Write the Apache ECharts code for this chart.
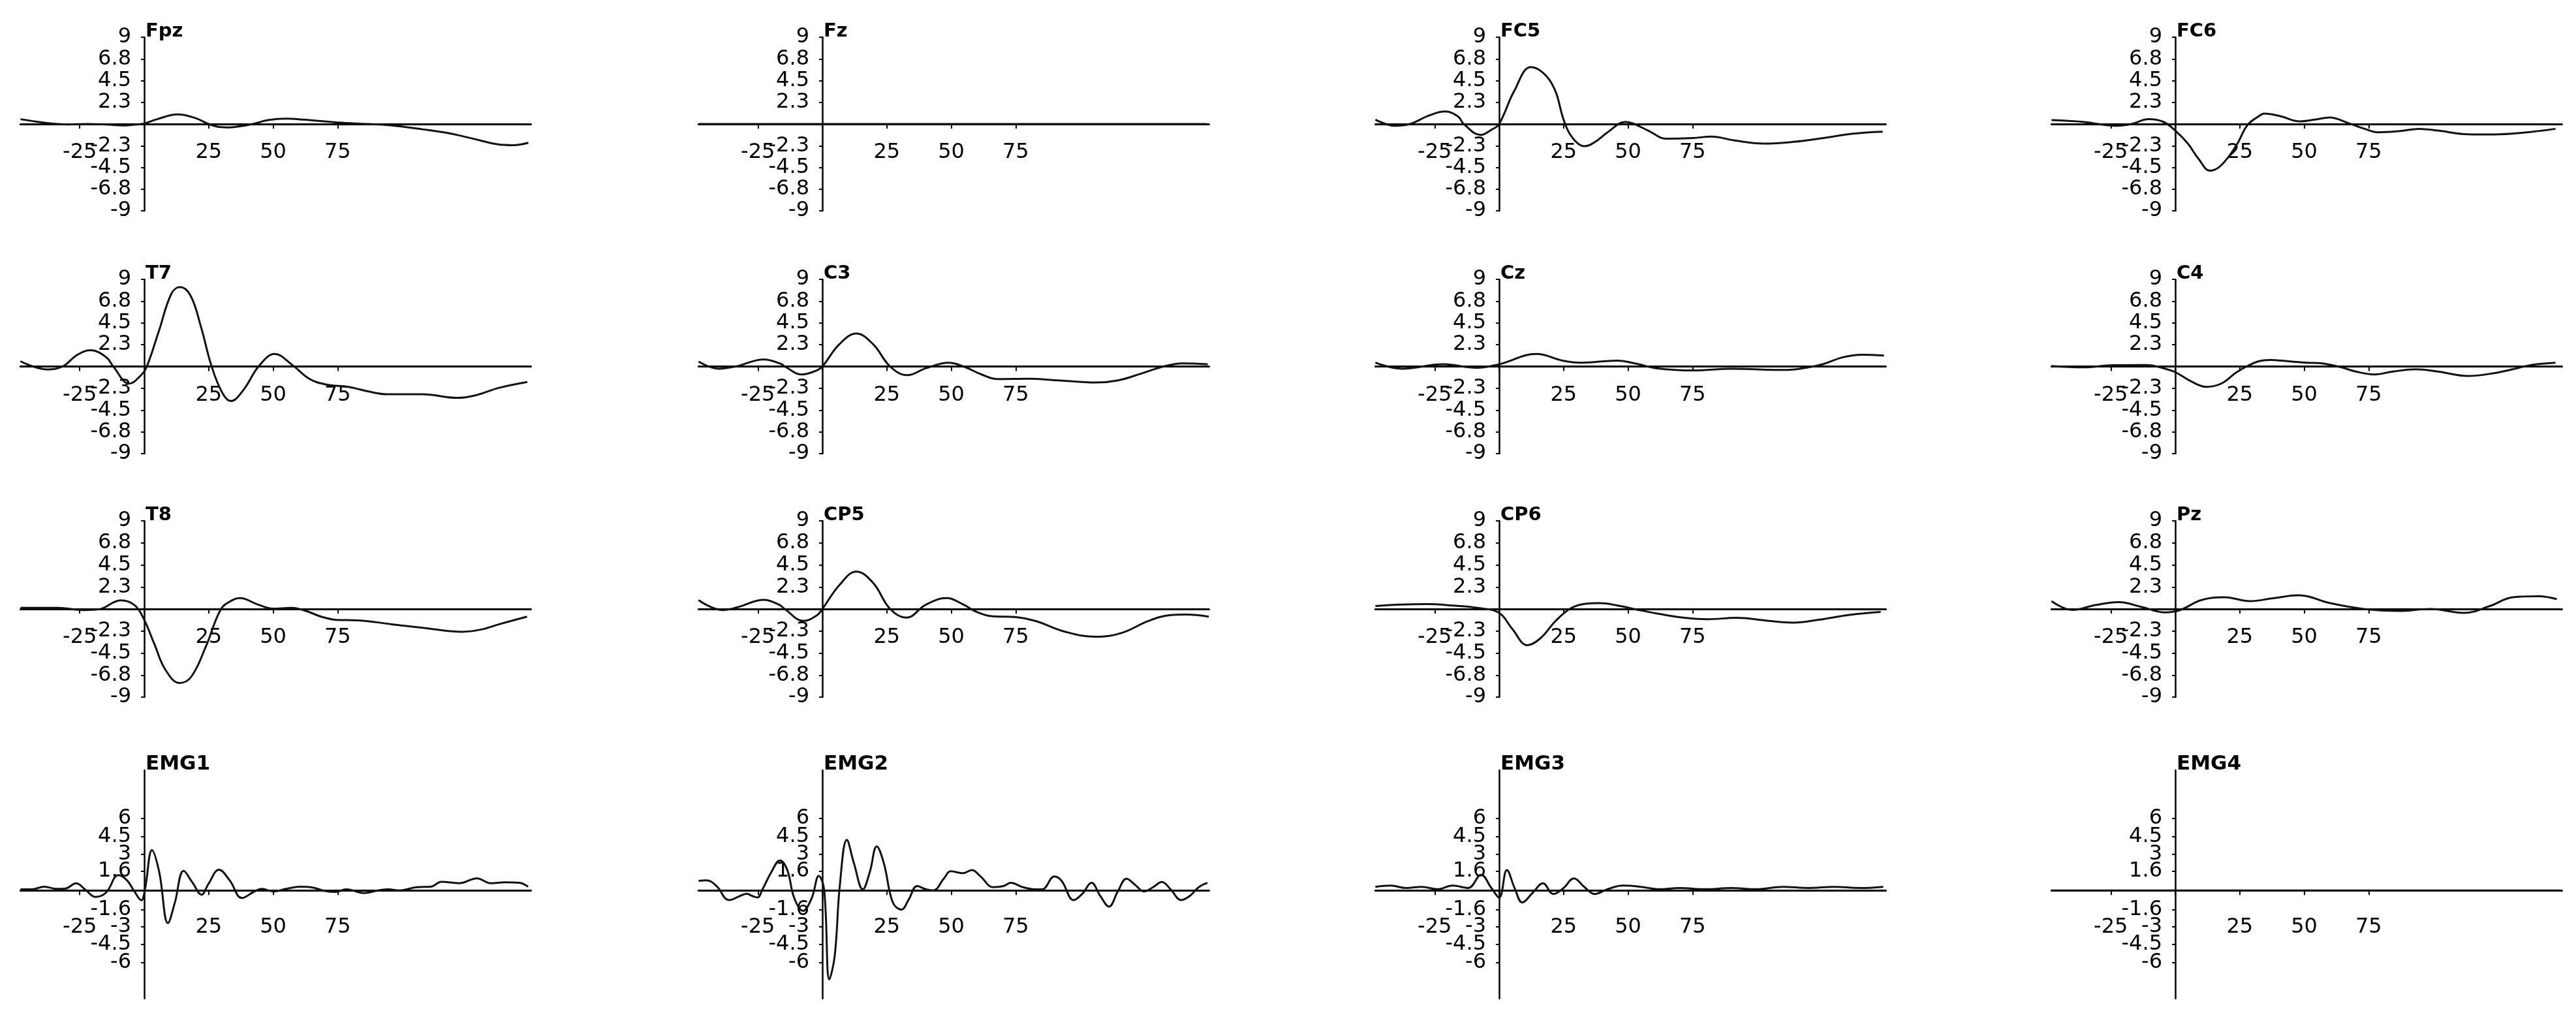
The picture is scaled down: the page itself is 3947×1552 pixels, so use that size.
<!DOCTYPE html>
<html><head><meta charset="utf-8">
<script src="https://cdn.jsdelivr.net/npm/echarts@6/dist/echarts.min.js"></script>
<style>html,body{margin:0;padding:0;background:#fff}#c{width:3947px;height:1552px}</style>
</head><body><div id="c"></div><script>
// ---- data (x: latency units, y: amplitude) ----
const channels = ['Fpz','Fz','FC5','FC6','T7','C3','Cz','C4','T8','CP5','CP6','Pz','EMG1','EMG2','EMG3','EMG4'];
const xTickValues = [-25, 0, 25, 50, 75];
const xLabelValues = [-25, 25, 50, 75];
const eegYTicks = [9, 6.75, 4.5, 2.25, -2.25, -4.5, -6.75, -9];
const eegYLabels = ['9', '6.8', '4.5', '2.3', '-2.3', '-4.5', '-6.8', '-9'];
const emgYTicks = [6, 4.5, 3, 1.6, -1.6, -3, -4.5, -6];
const emgYLabels = ['6', '4.5', '3', '1.6', '-1.6', '-3', '-4.5', '-6'];

const Fpz = [[-48,0.5],[-42,0.25],[-36,0.05],[-30,-0.05],[-22,0],[-15,-0.05],[-8,-0.15],[-3,-0.05],[0,0.05],[5,0.5],[13,1.0],[20,0.6],[25,0],[29,-0.3],[33,-0.35],[38,-0.2],[42,0],[48,0.4],[55,0.56],[62,0.45],[68,0.32],[75,0.15],[87,0],[95,-0.12],[108,-0.55],[118,-0.95],[128,-1.55],[137,-2.1],[143,-2.2],[149,-1.95]];
const Fz = [[-48,0],[0,0],[50,0],[100,0],[149,0]];
const FC5 = [[-48,0.45],[-40.5,-0.18],[-34.7,0],[-27,0.9],[-21,1.3],[-16,0.8],[-13.7,0],[-7.2,-1.13],[-3,-0.6],[0,0],[5.8,3.4],[12.3,5.9],[20.2,4.3],[25.6,0],[29,-1.6],[33.2,-2.3],[37,-1.9],[41.9,-0.9],[49,0.22],[52,0.05],[57.8,-0.68],[65,-1.53],[75,-1.46],[82.4,-1.3],[91,-1.69],[102.6,-2.03],[114.2,-1.85],[125.7,-1.46],[137.3,-1.0],[148.8,-0.79]];
const FC6 = [[-48,0.4],[-35.8,0.22],[-22.8,-0.18],[-17,0],[-10.4,0.5],[-4.6,0.22],[0,-0.68],[4.8,-2.0],[9,-3.6],[13.5,-4.84],[17.8,-4.28],[23.6,-2.25],[28,-0.11],[32.3,0.79],[34.5,1.08],[41,0.79],[48.3,0.27],[54,0.45],[59.9,0.68],[67,0.11],[72.9,-0.45],[78.7,-0.86],[87.4,-0.72],[94.6,-0.5],[101.9,-0.68],[113.5,-1.06],[123.6,-1.08],[135,-0.9],[147.5,-0.5]];
const T7 = [[-48,0.54],[-37.8,-0.3],[-31.7,0],[-26,1.2],[-20.8,1.68],[-14.7,0.95],[-12,0],[-5.85,-1.77],[-1.1,-0.86],[1,0],[5.7,3.67],[10.5,7.5],[13.9,8.2],[18,7.3],[22,4.1],[26.1,0.05],[30.2,-2.68],[33.6,-3.58],[38.4,-2.45],[44.5,0.05],[50.6,1.29],[57.4,0.16],[64.2,-1.3],[71,-1.88],[79.2,-2.1],[87.3,-2.6],[94.1,-2.86],[107.8,-2.86],[121.4,-3.24],[128.2,-3.0],[137.7,-2.2],[148.6,-1.6]];
const C3 = [[-48,0.5],[-40.2,-0.23],[-33.6,0],[-22.7,0.73],[-16,0.27],[-14.6,0],[-8,-0.82],[-2.2,-0.41],[0,0],[6.6,2.3],[13.2,3.4],[19.7,2.3],[26.3,0],[32.9,-0.9],[40.2,-0.18],[49,0.39],[54.8,0],[62.1,-0.86],[68,-1.3],[79.7,-1.27],[91.4,-1.43],[106,-1.66],[114.8,-1.43],[123.5,-0.75],[132.3,0],[139.6,0.32],[149.5,0.23]];
const Cz = [[-48,0.39],[-37.7,-0.23],[-21.7,0.23],[-8.7,-0.14],[0,0.23],[14.5,1.29],[24.6,0.61],[31.9,0.39],[45.7,0.61],[53.6,0.27],[60.9,-0.18],[75.4,-0.41],[89.9,-0.23],[111.6,-0.36],[120.3,-0.07],[126,0.27],[133.3,0.95],[140.6,1.22],[149.3,1.13]];
const C4 = [[-48,0.05],[-35.8,-0.09],[-24.2,0.14],[-11.2,0.16],[-4.6,-0.18],[0,-0.59],[6.2,-1.54],[12,-2.1],[17.8,-1.77],[23.6,-0.63],[28,0.05],[32.3,0.54],[36.7,0.68],[43.9,0.54],[51.2,0.39],[57,0.32],[64.2,-0.07],[70,-0.52],[77.2,-0.82],[84.5,-0.52],[93.2,-0.29],[101.9,-0.52],[113.5,-0.98],[122.2,-0.75],[130.9,-0.29],[138.1,0.16],[147.5,0.39]];
const T8 = [[-48,0.11],[-33.5,0.11],[-23.5,-0.11],[-17.7,-0.04],[-9.1,0.89],[-4,0.44],[-0.4,-0.89],[3.9,-3.56],[8.2,-6.2],[13.7,-7.56],[18.3,-6.9],[24,-3.78],[29.8,0],[34.1,0.89],[37,1.11],[44.2,0.44],[49.9,0.04],[57.1,0.11],[62.9,-0.22],[68.6,-0.78],[74.4,-1.11],[83,-1.16],[96,-1.56],[110.4,-2.0],[123.3,-2.33],[130.5,-2.11],[137.7,-1.56],[148.5,-0.78]];
const CP5 = [[-48,0.9],[-38.7,-0.11],[-32.9,0.18],[-22.7,0.93],[-16.8,0.44],[-14.6,0],[-7.3,-1.22],[-2.2,-0.67],[0,0],[6.6,2.44],[13.2,3.82],[19.7,2.67],[26.3,0],[32.6,-0.89],[40.2,0.44],[48.2,1.11],[54.8,0.44],[59.2,-0.22],[65,-0.71],[75.3,-0.84],[82.6,-1.22],[94.3,-2.33],[106,-2.84],[116.2,-2.44],[126.5,-1.22],[135.2,-0.62],[141.1,-0.56],[149.9,-0.78]];
const CP6 = [[-48,0.3],[-38,0.45],[-28,0.5],[-18,0.35],[-8,0.1],[0,-0.4],[5,-2.0],[11,-3.7],[16,-3.0],[22,-1.2],[28,0.1],[34,0.55],[39,0.6],[46,0.35],[54,-0.1],[62,-0.5],[72,-0.9],[81,-1.05],[92,-0.9],[104,-1.2],[114,-1.4],[124,-1.1],[136,-0.6],[148,-0.3]];
const Pz = [[-48,0.8],[-40,-0.1],[-31,0.4],[-22,0.7],[-13,0.2],[-4,-0.35],[2,-0.1],[10,0.9],[19,1.2],[29,0.8],[38,1.1],[48,1.4],[60,0.6],[73,0],[87,-0.2],[99,0],[112,-0.4],[122,0.3],[131,1.2],[141,1.3],[148,1.0]];
const EMG1 = [[-48,0.09],[-43.6,0.09],[-38.8,0.31],[-34,0.13],[-30.5,0.16],[-26.4,0.6],[-23,0.09],[-18.9,-0.54],[-14.8,-0.18],[-10,1.27],[-6.6,0.82],[-3.8,-0.09],[-1.1,-0.82],[0.3,0.09],[3,3.35],[5.8,1.54],[9.2,-2.72],[11.9,-1.0],[15.3,1.63],[18.8,0.63],[22.2,-0.36],[24.9,0.54],[29,1.72],[33.2,0.82],[37.9,-0.63],[42.7,-0.09],[45.5,0.13],[50.3,-0.09],[55,0.13],[60.5,0.31],[65.3,0.24],[70.1,-0.05],[74.2,-0.13],[78.4,0.09],[85.2,-0.22],[90.7,0],[94.8,0.09],[98.9,0],[105.8,0.27],[111.2,0.31],[115.3,0.72],[122.2,0.6],[129,1.0],[134.5,0.6],[140,0.67],[145.5,0.63],[148.9,0.31]];
const EMG2 = [[-48,0.8],[-45,0.84],[-41,0.36],[-36.2,-0.8],[-31.4,-0.41],[-29.3,-0.27],[-27.3,-0.45],[-25.2,-0.59],[-23.2,0.09],[-19.8,1.52],[-16.4,2.5],[-13.6,1.7],[-10.9,-0.63],[-7.5,-1.7],[-4.1,-0.63],[-1.4,1.2],[0.7,0.09],[2.7,-7.4],[4.8,-5.45],[6.8,0.45],[9.5,4.2],[12.3,2.23],[15.7,0.09],[18.4,1.52],[21.1,3.66],[23.9,2.23],[27.3,-0.98],[30.7,-1.6],[33.4,-0.8],[36.8,0.36],[40.2,0.09],[43,0],[47.1,0.98],[49.8,1.6],[54.6,1.43],[58,1.7],[61.4,1.16],[66.2,0.27],[70.3,0.36],[73,0.63],[77.8,0.27],[82.5,0.09],[85.3,0.09],[90,1.16],[92.8,0.8],[97.5,-0.8],[100.9,-0.27],[104.4,0.63],[107.8,-0.45],[111.2,-1.34],[114.6,-0.09],[118,0.98],[121.4,0.45],[124.8,-0.09],[128.3,0.27],[131.7,0.71],[135.1,0.09],[139.2,-0.8],[142.6,-0.45],[146,0.27],[149.4,0.63]];
const EMG3 = [[-48,0.3],[-42,0.4],[-36,0.2],[-30,0.3],[-24,0.1],[-18,0.4],[-12,0.2],[-7,1.3],[-3,0.2],[0,-0.6],[3,1.7],[6,0.2],[9,-1.0],[13,-0.2],[17,0.6],[21,-0.3],[25,0.2],[29,1.0],[33,0.3],[37,-0.3],[42,0.1],[48,0.4],[55,0.3],[62,0.1],[70,0.2],[80,0.1],[90,0.2],[100,0.1],[110,0.3],[120,0.2],[130,0.3],[140,0.2],[149,0.3]];
const EMG4 = [[-48,0],[0,0],[50,0],[100,0],[149,0]];
const seriesData = {Fpz,Fz,FC5,FC6,T7,C3,Cz,C4,T8,CP5,CP6,Pz,EMG1,EMG2,EMG3,EMG4};

// ---- layout ----
const FONT = "'DejaVu Sans', 'Liberation Sans', sans-serif";
const colAxisX = [221, 1260, 2297, 3333];
const pxPerUnit = 3.95;
const X_MIN = -48, X_MAX = 150;
const rows = [{top:57,h:266},{top:428,h:267},{top:798,h:270},{top:1180,h:350}];
const LABEL_SIZE = 32;

const grids = [], xAxes = [], yAxes = [], series = [];

function makeYAxis(i, yMin, yMax, gw, ticks, labels, withLine, name, isEmg) {
  return {
    type: 'value', gridIndex: i, min: yMin, max: yMax,
    position: 'left', offset: -gw * (0 - X_MIN) / (X_MAX - X_MIN),
    name: withLine ? name : '', nameLocation: 'end', nameGap: -6,
    nameTextStyle: {align: 'left', verticalAlign: 'bottom', fontWeight: 'bold', fontSize: isEmg ? 31 : 29, fontFamily: FONT, color: '#000', padding: [0, 0, 0, 2]},
    axisLine: {show: withLine, onZero: false, lineStyle: {color: '#000', width: 2.5}},
    axisTick: {show: true, customValues: ticks, length: 5, lineStyle: {color: '#000', width: 2}},
    axisLabel: {customValues: ticks, interval: 0, margin: 20, fontSize: LABEL_SIZE, fontFamily: FONT, color: '#000',
      hideOverlap: false, showMinLabel: true, showMaxLabel: true,
      formatter: v => { const k = ticks.findIndex(t => Math.abs(t - v) < 1e-6); return k >= 0 ? labels[k] : ''; }},
    splitLine: {show: false}
  };
}

channels.forEach((name, i) => {
  const r = Math.floor(i / 4), c = i % 4;
  const isEmg = r === 3;
  const yMin = -9, yMax = isEmg ? 10 : 9;
  const gw = (X_MAX - X_MIN) * pxPerUnit;
  const gh = rows[r].h;
  grids.push({
    left: colAxisX[c] + X_MIN * pxPerUnit, width: gw,
    top: rows[r].top, height: gh,
    containLabel: false, outerBoundsMode: 'none'
  });
  xAxes.push({
    type: 'value', gridIndex: i, min: X_MIN, max: X_MAX,
    position: 'bottom', offset: -gh * (0 - yMin) / (yMax - yMin),
    axisLine: {onZero: false, lineStyle: {color: '#000', width: 3}},
    axisTick: {show: true, customValues: xTickValues, length: 7, lineStyle: {color: '#000', width: 2}},
    axisLabel: {customValues: xLabelValues, interval: 0, margin: isEmg ? 40 : 28, fontSize: LABEL_SIZE, fontFamily: FONT, color: '#000',
      hideOverlap: false, showMinLabel: true, showMaxLabel: true},
    splitLine: {show: false}
  });
  const ticks = isEmg ? emgYTicks : eegYTicks;
  const labels = isEmg ? emgYLabels : eegYLabels;
  const yIndex = yAxes.length;
  if (isEmg) {
    // EMG tick labels sit close together; split them over two coincident axes so none is dropped
    const tA = ticks.filter((_, k) => k % 2 === 0), lA = labels.filter((_, k) => k % 2 === 0);
    const tB = ticks.filter((_, k) => k % 2 === 1), lB = labels.filter((_, k) => k % 2 === 1);
    yAxes.push(makeYAxis(i, yMin, yMax, gw, tA, lA, true, name, true));
    yAxes.push(makeYAxis(i, yMin, yMax, gw, tB, lB, false, name, true));
  } else {
    yAxes.push(makeYAxis(i, yMin, yMax, gw, ticks, labels, true, name, false));
  }
  series.push({
    type: 'line', name: name, xAxisIndex: i, yAxisIndex: yIndex,
    data: seriesData[name], smooth: 0.4, showSymbol: false,
    lineStyle: {color: '#111', width: 3}, z: 3
  });
});

const chart = echarts.init(document.getElementById('c'), null, {renderer: 'canvas'});
chart.setOption({
  backgroundColor: '#fff', animation: false,
  grid: grids, xAxis: xAxes, yAxis: yAxes, series: series
});
</script></body></html>
